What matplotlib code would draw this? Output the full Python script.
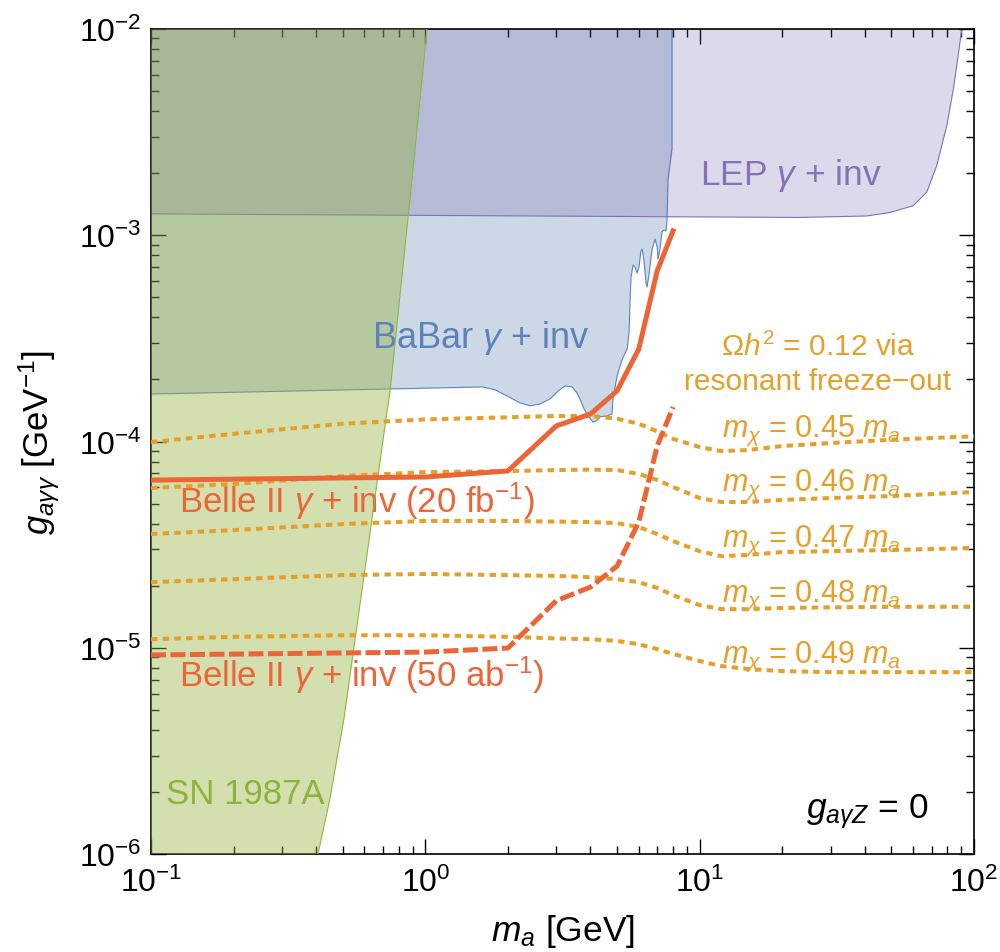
import matplotlib
matplotlib.use("Agg")
import matplotlib.pyplot as plt
import numpy as np

plt.rcParams['font.family'] = ['Liberation Sans', 'DejaVu Sans']
plt.rcParams['mathtext.fontset'] = 'custom'
plt.rcParams['mathtext.rm'] = 'Liberation Sans'
plt.rcParams['mathtext.it'] = 'Liberation Sans:italic'
plt.rcParams['mathtext.bf'] = 'Liberation Sans:bold'
plt.rcParams['mathtext.default'] = 'it'

# SN 1987A boundary
sn_m = [1.014, 0.894, 0.744, 0.719, 0.505, 0.449, 0.406]
sn_g = [1e-2, 1.87e-3, 1.76e-4, 1.29e-4, 4.52e-6, 1.85e-6, 1e-6]

# BaBar gamma + inv lower boundary
babar_m = [0.1, 0.35, 1.13, 1.62, 1.80, 1.99, 2.21, 2.41, 2.62, 2.85, 3.05, 3.23,
           3.43, 3.57, 3.66, 3.79, 3.92, 4.09, 4.23, 4.34, 4.60, 4.79, 4.83, 5.00,
           5.22, 5.44, 5.53, 5.58, 5.62, 5.72, 5.81, 5.91, 6.01, 6.11, 6.17, 6.27,
           6.38, 6.43, 6.54, 6.71, 6.88, 7.00, 7.05, 7.17, 7.29, 7.42, 7.54, 7.60,
           7.67, 7.93, 7.93]
babar_g = [1.70e-4, 1.76e-4, 1.82e-4, 1.84e-4, 1.78e-4, 1.66e-4, 1.54e-4, 1.49e-4,
           1.52e-4, 1.61e-4, 1.76e-4, 1.86e-4, 1.84e-4, 1.72e-4, 1.61e-4, 1.44e-4,
           1.33e-4, 1.24e-4, 1.27e-4, 1.32e-4, 1.33e-4, 1.36e-4, 1.61e-4, 2.08e-4,
           2.51e-4, 2.81e-4, 3.39e-4, 4.91e-4, 6.27e-4, 7.17e-4, 7.02e-4, 6.56e-4,
           7.02e-4, 8.39e-4, 8.58e-4, 7.50e-4, 5.80e-4, 5.61e-4, 6.49e-4, 8.58e-4,
           9.59e-4, 8.77e-4, 7.67e-4, 8.58e-4, 1.04e-3, 1.06e-3, 1.05e-3, 1.17e-3,
           1.87e-3, 2.62e-3, 1e-2]

# LEP gamma + inv lower boundary
lep_m = [0.1, 23.2, 40.6, 49.4, 60.0, 67.3, 73.1, 79.6, 84.1, 86.5, 90.3]
lep_g = [1.27e-3, 1.22e-3, 1.24e-3, 1.29e-3, 1.39e-3, 1.62e-3, 2.17e-3, 3.40e-3,
         5.12e-3, 6.64e-3, 1.0e-2]

# Belle II projections
belle_m = [0.1, 1, 2, 3, 4, 5, 6, 7, 8]
belle_20fb = [6.50e-5, 6.73e-5, 7.20e-5, 1.19e-4, 1.36e-4, 1.76e-4, 2.81e-4, 6.71e-4, 1.05e-3]
belle_50ab = [9.23e-6, 9.53e-6, 9.97e-6, 1.69e-5, 1.97e-5, 2.49e-5, 4.07e-5, 9.51e-5, 1.47e-4]

# relic density contours
relic_m = [0.1, 0.2, 0.5, 1, 2, 3, 4, 5, 6, 7, 8, 10, 12, 15, 20, 30, 50, 70, 100]
relic_ratio = ["0.45", "0.46", "0.47", "0.48", "0.49"]
relic_045 = [9.94e-5, 1.09e-4, 1.22e-4, 1.28e-4, 1.31e-4, 1.33e-4, 1.33e-4, 1.29e-4, 1.22e-4,
             1.12e-4, 1.03e-4, 9.40e-5, 8.99e-5, 9.09e-5, 9.51e-5, 9.83e-5, 1.02e-4, 1.04e-4, 1.06e-4]
relic_046 = [5.95e-5, 6.22e-5, 6.80e-5, 7.11e-5, 7.19e-5, 7.27e-5, 7.31e-5, 7.27e-5, 6.96e-5,
             6.51e-5, 6.02e-5, 5.32e-5, 5.09e-5, 5.09e-5, 5.21e-5, 5.32e-5, 5.44e-5, 5.56e-5, 5.69e-5]
relic_047 = [3.56e-5, 3.72e-5, 3.98e-5, 4.12e-5, 4.12e-5, 4.09e-5, 4.07e-5, 4.02e-5, 3.85e-5,
             3.56e-5, 3.29e-5, 2.94e-5, 2.78e-5, 2.82e-5, 2.91e-5, 2.94e-5, 2.98e-5, 3.01e-5, 3.05e-5]
relic_048 = [2.08e-5, 2.15e-5, 2.25e-5, 2.28e-5, 2.25e-5, 2.23e-5, 2.20e-5, 2.15e-5, 2.08e-5,
             1.95e-5, 1.80e-5, 1.61e-5, 1.54e-5, 1.54e-5, 1.56e-5, 1.57e-5, 1.58e-5, 1.58e-5, 1.58e-5]
relic_049 = [1.10e-5, 1.13e-5, 1.15e-5, 1.15e-5, 1.13e-5, 1.11e-5, 1.10e-5, 1.08e-5, 1.04e-5,
             9.86e-6, 9.33e-6, 8.63e-6, 8.15e-6, 7.89e-6, 7.71e-6, 7.62e-6, 7.62e-6, 7.62e-6, 7.62e-6]
relic_curves = [relic_045, relic_046, relic_047, relic_048, relic_049]

xmin, xmax = 0.1, 100
ymin, ymax = 1e-6, 1e-2

red = '#ec6537'
orange = '#e6a02a'

fig = plt.figure(figsize=(10, 9.53), dpi=100)
ax = fig.add_axes([0.151, 0.1028, 0.823, 0.8657])
ax.set_xscale('log')
ax.set_yscale('log')

# BaBar (drawn first, opaque)
ax.fill([xmin] + babar_m + [xmin], [ymax] + babar_g + [ymax],
        facecolor='#cdd8e7', edgecolor='none', zorder=1)
ax.plot(babar_m, babar_g, color='#5b84c0', lw=0.8, zorder=1.1)

# LEP
ax.fill([xmin] + lep_m + [xmin], [lep_g[0]] + lep_g + [ymax],
        facecolor='#6052a0', alpha=0.22, edgecolor='none', zorder=2)
ax.plot(lep_m, lep_g, color='#7d72b8', lw=0.8, zorder=2.1)

# SN 1987A
ax.fill([xmin] + sn_m + [xmin], [ymax] + sn_g + [ymin],
        facecolor='#96b341', alpha=0.42, edgecolor='none', zorder=3)
ax.plot(sn_m, sn_g, color='#8db83a', lw=0.8, zorder=3.1)

for g in relic_curves:
    ax.plot(relic_m, g, color=orange, lw=2.9, ls=(0, (1.6, 1.3)),
            dash_capstyle='butt', zorder=4)

ax.plot(belle_m, belle_20fb, color=red, lw=3.6, zorder=5)
ax.plot(belle_m, belle_50ab, color=red, lw=3.6, ls=(0, (3.0, 0.9)),
        dash_capstyle='butt', zorder=5)

ax.set_xlim(xmin, xmax)
ax.set_ylim(ymin, ymax)

ax.tick_params(which='both', direction='in', top=True, right=True,
               labelsize=23, width=1)
ax.tick_params(axis='x', pad=9)
ax.tick_params(axis='y', pad=7)
ax.tick_params(which='major', length=11)
ax.tick_params(which='minor', length=6)
for s in ax.spines.values():
    s.set_linewidth(1.2)

ax.set_xlabel('$m_a$ [GeV]', fontsize=25.5, labelpad=10)
ax.set_ylabel('$g_{a\\gamma\\gamma}$ [GeV$^{-1}$]', fontsize=25, labelpad=12)

tr = ax.transAxes
ax.text(0.667, 0.812, 'LEP $\\gamma$ + inv', color='#8474b5', fontsize=25.5, transform=tr)
ax.text(0.268, 0.614, 'BaBar $\\gamma$ + inv', color='#5b82b9', fontsize=26, transform=tr)
ax.text(0.810, 0.605, '$\\mathrm{\\Omega}h^2$ = 0.12 via', color=orange, fontsize=21.5,
        ha='center', transform=tr)
ax.text(0.810, 0.564, 'resonant freeze\u2212out', color=orange, fontsize=21.5,
        ha='center', transform=tr)
label_y = [0.507, 0.441, 0.374, 0.307, 0.233]
for r, yy in zip(relic_ratio, label_y):
    ax.text(0.6934, yy, '$m_\\chi$ = ' + r + ' $m_a$', color=orange, fontsize=22,
            transform=tr)
ax.text(0.034, 0.4145, 'Belle II $\\gamma$ + inv (20 fb$^{-1}$)', color=red,
        fontsize=25, transform=tr)
ax.text(0.034, 0.204, 'Belle II $\\gamma$ + inv (50 ab$^{-1}$)', color=red,
        fontsize=25, transform=tr)
ax.text(0.018, 0.062, 'SN 1987A', color='#91b23a', fontsize=25, transform=tr)
ax.text(0.796, 0.044, '$g_{a\\gamma Z}$ = 0', color='black', fontsize=25.5, transform=tr)

fig.savefig('out.png', dpi=100)
